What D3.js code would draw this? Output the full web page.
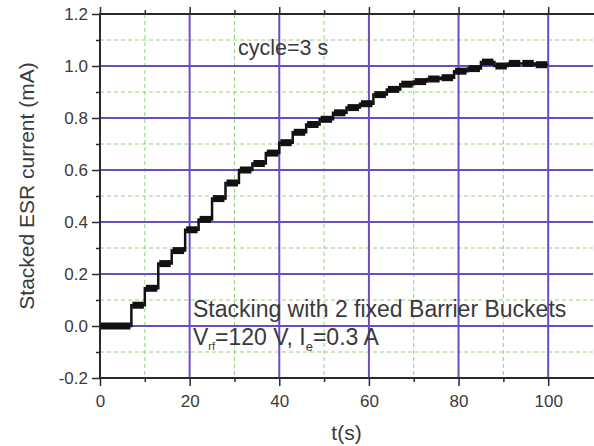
<!DOCTYPE html>
<html>
<head>
<meta charset="utf-8">
<script src="https://cdn.jsdelivr.net/npm/d3@7/dist/d3.min.js"></script>
<style>
  html, body { margin: 0; padding: 0; background: #fff; }
  svg { display: block; }
  text { font-family: "Liberation Sans", Arial, sans-serif; }
</style>
</head>
<body>
<svg id="chart" width="594" height="446"></svg>
<script>
// ---- data ----
const stepTimes  = [0, 7, 10, 13, 16, 19, 22, 25, 28, 31, 34, 37, 40, 43, 46, 49, 52, 55, 58, 61, 64, 67, 70, 73, 76, 79, 82, 85, 88, 91, 94, 97, 100];
const stepLevels = [0.0, 0.08, 0.145, 0.24, 0.29, 0.37, 0.41, 0.49, 0.55, 0.60, 0.625, 0.665, 0.705, 0.745, 0.775, 0.795, 0.82, 0.84, 0.855, 0.89, 0.91, 0.93, 0.94, 0.95, 0.955, 0.98, 0.99, 1.015, 1.0, 1.01, 1.01, 1.005, 1.005];
const xMajorTicks = [0, 20, 40, 60, 80, 100];
const xMinorTicks = [10, 30, 50, 70, 90];
const yMajorTicks = [-0.2, 0.0, 0.2, 0.4, 0.6, 0.8, 1.0, 1.2];
const yMinorTicks = [-0.1, 0.1, 0.3, 0.5, 0.7, 0.9, 1.1];
const yTickLabels = ["-0.2", "0.0", "0.2", "0.4", "0.6", "0.8", "1.0", "1.2"];
const xLabel = "t(s)";
const yLabel = "Stacked ESR current (mA)";

// ---- layout ----
const svg = d3.select("#chart");
const L = 100, R = 593, T = 14, B = 378;
const x = d3.scaleLinear().domain([0, 110]).range([L, R]);
const y = d3.scaleLinear().domain([-0.2, 1.2]).range([B, T]);

const purple = "#6c4cc0", green = "#8fd47c", axisCol = "#2a2a2a", textCol = "#3a3a3a";

// minor grid (green dashed)
svg.append("g").selectAll("line").data(xMinorTicks).join("line")
  .attr("x1", d => x(d)).attr("x2", d => x(d)).attr("y1", T).attr("y2", B)
  .attr("stroke", green).attr("stroke-width", 1).attr("stroke-dasharray", "4,3");
svg.append("g").selectAll("line").data(yMinorTicks).join("line")
  .attr("x1", L).attr("x2", R).attr("y1", d => y(d)).attr("y2", d => y(d))
  .attr("stroke", green).attr("stroke-width", 1).attr("stroke-dasharray", "4,3");

// major grid (purple)
svg.append("g").selectAll("line").data(xMajorTicks.filter(d => d > 0)).join("line")
  .attr("x1", d => x(d)).attr("x2", d => x(d)).attr("y1", T).attr("y2", B)
  .attr("stroke", purple).attr("stroke-width", 2);
svg.append("g").selectAll("line").data(yMajorTicks.filter(d => d > -0.2 && d < 1.2)).join("line")
  .attr("x1", L).attr("x2", R).attr("y1", d => y(d)).attr("y2", d => y(d))
  .attr("stroke", purple).attr("stroke-width", 2);

// axes
const fmt = d => yTickLabels[yMajorTicks.indexOf(d)];
const gL = svg.append("g").attr("transform", `translate(${L},0)`)
  .call(d3.axisLeft(y).tickValues(yMajorTicks).tickFormat(fmt).tickSize(8).tickPadding(4));
const gLm = svg.append("g").attr("transform", `translate(${L},0)`)
  .call(d3.axisLeft(y).tickValues(yMinorTicks).tickFormat("").tickSize(4));
const gB = svg.append("g").attr("transform", `translate(0,${B})`)
  .call(d3.axisBottom(x).tickValues(xMajorTicks).tickSize(8).tickPadding(6));
const gBm = svg.append("g").attr("transform", `translate(0,${B})`)
  .call(d3.axisBottom(x).tickValues(xMinorTicks).tickFormat("").tickSize(4));
const gT = svg.append("g").attr("transform", `translate(0,${T})`)
  .call(d3.axisTop(x).tickValues(xMajorTicks).tickFormat("").tickSize(7));
const gTm = svg.append("g").attr("transform", `translate(0,${T})`)
  .call(d3.axisTop(x).tickValues(xMinorTicks).tickFormat("").tickSize(4));

[gL, gLm, gB, gBm, gT, gTm].forEach(g => {
  g.selectAll(".domain").remove();
  g.selectAll(".tick line").attr("stroke", axisCol).attr("stroke-width", 1.5);
  g.selectAll(".tick text").attr("fill", textCol).style("font-size", "17px")
    .style("font-family", '"Liberation Sans", Arial, sans-serif');
});
gB.selectAll(".tick text").attr("dy", "0.9em");

// axis lines
svg.append("line").attr("x1", L).attr("x2", L).attr("y1", T).attr("y2", B)
  .attr("stroke", axisCol).attr("stroke-width", 2);
svg.append("line").attr("x1", L - 1).attr("x2", R + 1).attr("y1", B).attr("y2", B)
  .attr("stroke", axisCol).attr("stroke-width", 2);
svg.append("line").attr("x1", L - 1).attr("x2", R + 1).attr("y1", T).attr("y2", T)
  .attr("stroke", axisCol).attr("stroke-width", 2);

// data: stacked current staircase (thin risers + thick noisy plateaus)
const pts = stepTimes.map((t, i) => [t, stepLevels[i]]);
const line = d3.line().x(d => x(d[0])).y(d => y(d[1])).curve(d3.curveStepAfter);
svg.append("path").attr("d", line(pts)).attr("fill", "none")
  .attr("stroke", "#111").attr("stroke-width", 2.5);
const plateaus = pts.slice(0, -1).map((p, i) => [p, [stepTimes[i + 1], p[1]]]);
svg.append("g").selectAll("line").data(plateaus).join("line")
  .attr("x1", d => x(d[0][0]) + 1).attr("x2", d => x(d[1][0]) - 1)
  .attr("y1", d => y(d[0][1])).attr("y2", d => y(d[1][1]))
  .attr("stroke", "#111").attr("stroke-width", 7);

// axis labels
svg.append("text").attr("x", (L + R) / 2).attr("y", 440).attr("text-anchor", "middle")
  .attr("fill", textCol).style("font-size", "21px").text(xLabel);
svg.append("text").attr("transform", "translate(34,186) rotate(-90)").attr("text-anchor", "middle")
  .attr("fill", textCol).style("font-size", "21px").text(yLabel);

// annotations
svg.append("text").attr("x", 238).attr("y", 55).attr("fill", textCol)
  .style("font-size", "21.5px").text("cycle=3 s");
svg.append("text").attr("x", 193).attr("y", 317).attr("fill", textCol)
  .style("font-size", "23px").text("Stacking with 2 fixed Barrier Buckets");
const t2 = svg.append("text").attr("x", 193).attr("y", 345).attr("fill", textCol).style("font-size", "23px");
t2.append("tspan").text("V");
t2.append("tspan").attr("dy", 5).style("font-size", "11px").text("rf");
t2.append("tspan").attr("dy", -5).text("=120 V, I");
t2.append("tspan").attr("dy", 6).style("font-size", "13px").text("e");
t2.append("tspan").attr("dy", -6).text("=0.3 A");
</script>
</body>
</html>
